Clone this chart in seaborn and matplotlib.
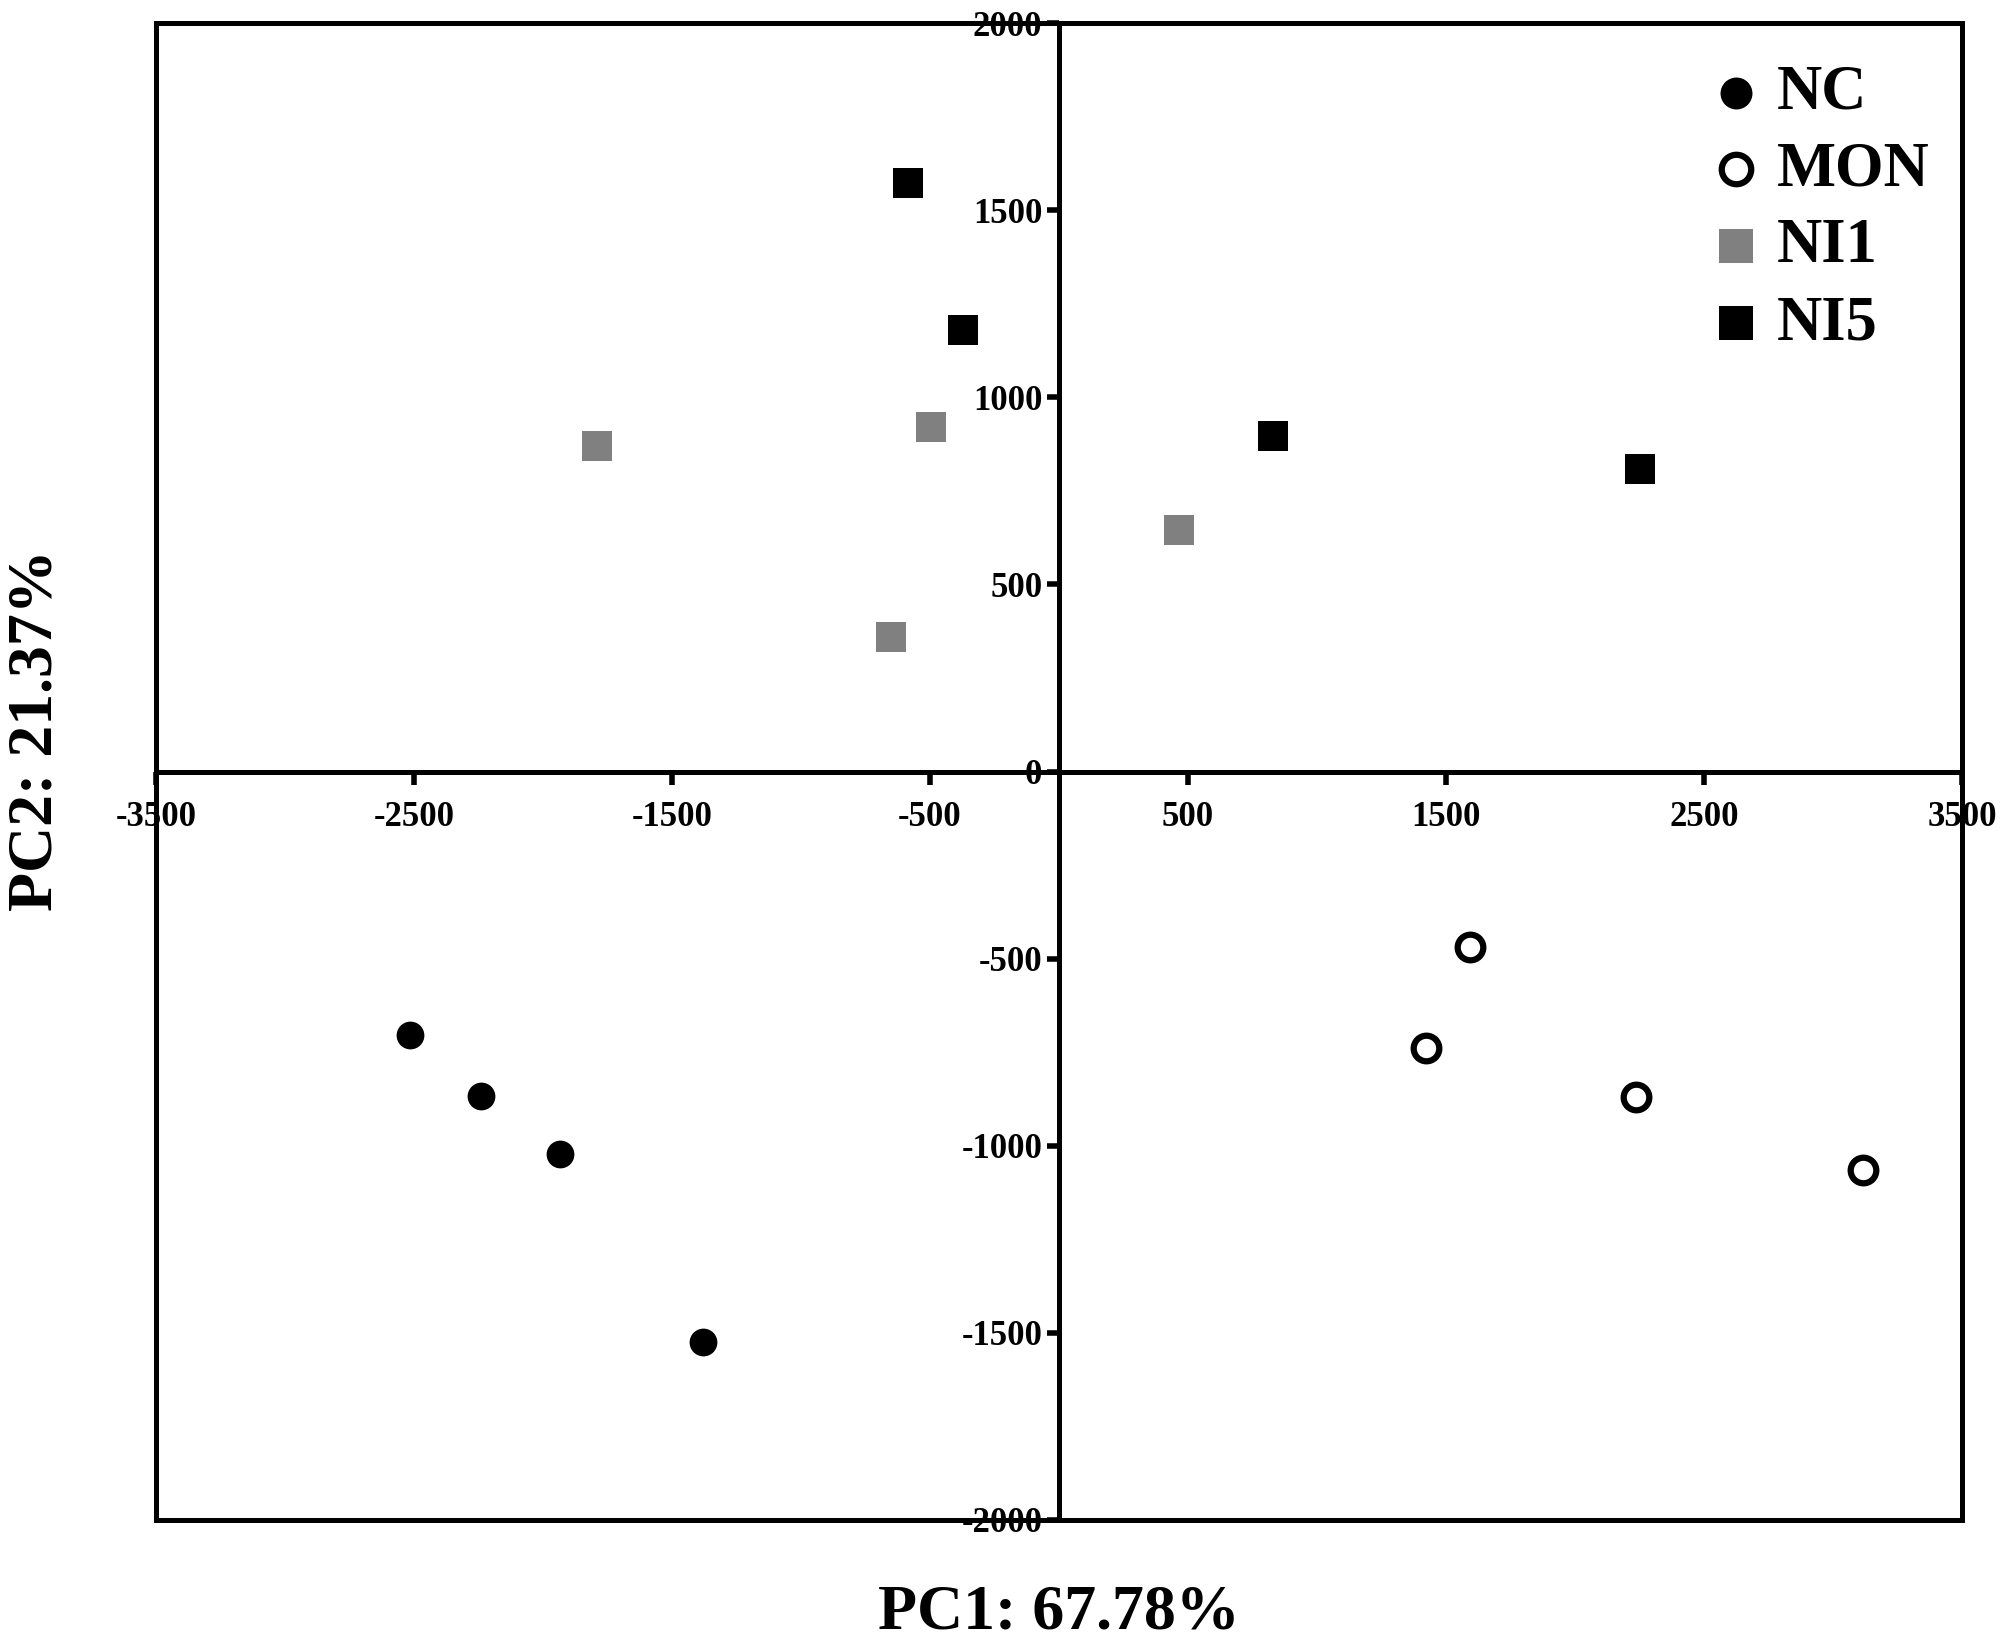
import numpy as np
import pandas as pd
import matplotlib
matplotlib.use('Agg')
import matplotlib.pyplot as plt
from matplotlib.patches import Rectangle
import seaborn as sns

# PCA scores
groups = ['NC', 'MON', 'NI1', 'NI5']
pc1_nc = [-2515, -2242, -1935, -1379]
pc2_nc = [-705, -866, -1021, -1524]
pc1_mon = [1592, 1424, 2237, 3115]
pc2_mon = [-469, -740, -870, -1065]
pc1_ni1 = [-1791, -496, 466, -650]
pc2_ni1 = [870, 921, 644, 360]
pc1_ni5 = [-585, -372, 828, 2252]
pc2_ni5 = [1572, 1181, 897, 808]

x_ticks = [-3500, -2500, -1500, -500, 500, 1500, 2500, 3500]
y_ticks = [-2000, -1500, -1000, -500, 0, 500, 1000, 1500, 2000]

df = pd.DataFrame({
    'PC1': pc1_nc + pc1_mon + pc1_ni1 + pc1_ni5,
    'PC2': pc2_nc + pc2_mon + pc2_ni1 + pc2_ni5,
    'group': [g for g in groups for _ in range(4)],
})

sns.set_style('white')
plt.rcParams['font.family'] = ['Liberation Serif', 'DejaVu Serif']
plt.rcParams['font.weight'] = 'bold'
for k in ['text.color', 'axes.labelcolor', 'xtick.color', 'ytick.color']:
    plt.rcParams[k] = 'black'

fig = plt.figure(figsize=(20.1, 16.45), dpi=100)
ax = fig.add_axes([0.0776, 0.076, 0.8985, 0.910])

styles = {
    'NC': dict(marker='o', s=400, color='black', edgecolor='black', linewidth=0),
    'MON': dict(marker='o', s=340, facecolor='white', edgecolor='black', linewidth=4.5),
    'NI1': dict(marker='s', s=450, color='#808080', edgecolor='#808080', linewidth=0),
    'NI5': dict(marker='s', s=450, color='black', edgecolor='black', linewidth=0),
}
for g in groups:
    sns.scatterplot(data=df[df['group'] == g], x='PC1', y='PC2', ax=ax,
                    label=g, zorder=4, **styles[g])

# spines through the origin (must come before tick styling: it resets ticks)
lw = 3.6
ax.spines['left'].set_position(('data', 0))
ax.spines['bottom'].set_position(('data', 0))
for s in ax.spines.values():
    s.set_linewidth(lw)
    s.set_color('black')
ax.add_patch(Rectangle((0, 0), 1, 1, transform=ax.transAxes, fill=False,
                       edgecolor='black', linewidth=lw, zorder=3, clip_on=False))

ax.set_xlim(-3500, 3500)
ax.set_ylim(-2000, 2000)
ax.set_xticks(x_ticks)
ax.set_yticks(y_ticks)
ax.set_xticklabels([str(t) for t in x_ticks], fontsize=25, fontweight='bold')
ax.set_yticklabels([str(t) for t in y_ticks], fontsize=25, fontweight='bold')
ax.tick_params(axis='both', direction='out', length=9, width=4, colors='black',
               bottom=True, left=True)
ax.tick_params(axis='x', pad=12)
ax.tick_params(axis='y', pad=3)
ax.set_xlabel('')
ax.set_ylabel('')

leg = ax.legend(loc='upper right', bbox_to_anchor=(0.982, 0.972), frameon=False,
                prop={'family': 'Liberation Serif', 'weight': 'bold', 'size': 45},
                handlelength=0.8, handletextpad=0.25, labelspacing=0.3,
                borderpad=0, borderaxespad=0, markerscale=1.15)
for t in leg.get_texts():
    t.set_color('black')

fig.text(0.527, 0.019, 'PC1: 67.78%', ha='center', va='center',
         fontsize=46, fontweight='bold')
fig.text(0.018, 0.556, 'PC2: 21.37%', ha='center', va='center', rotation=90,
         fontsize=46, fontweight='bold')

fig.savefig('out.png', dpi=100)
